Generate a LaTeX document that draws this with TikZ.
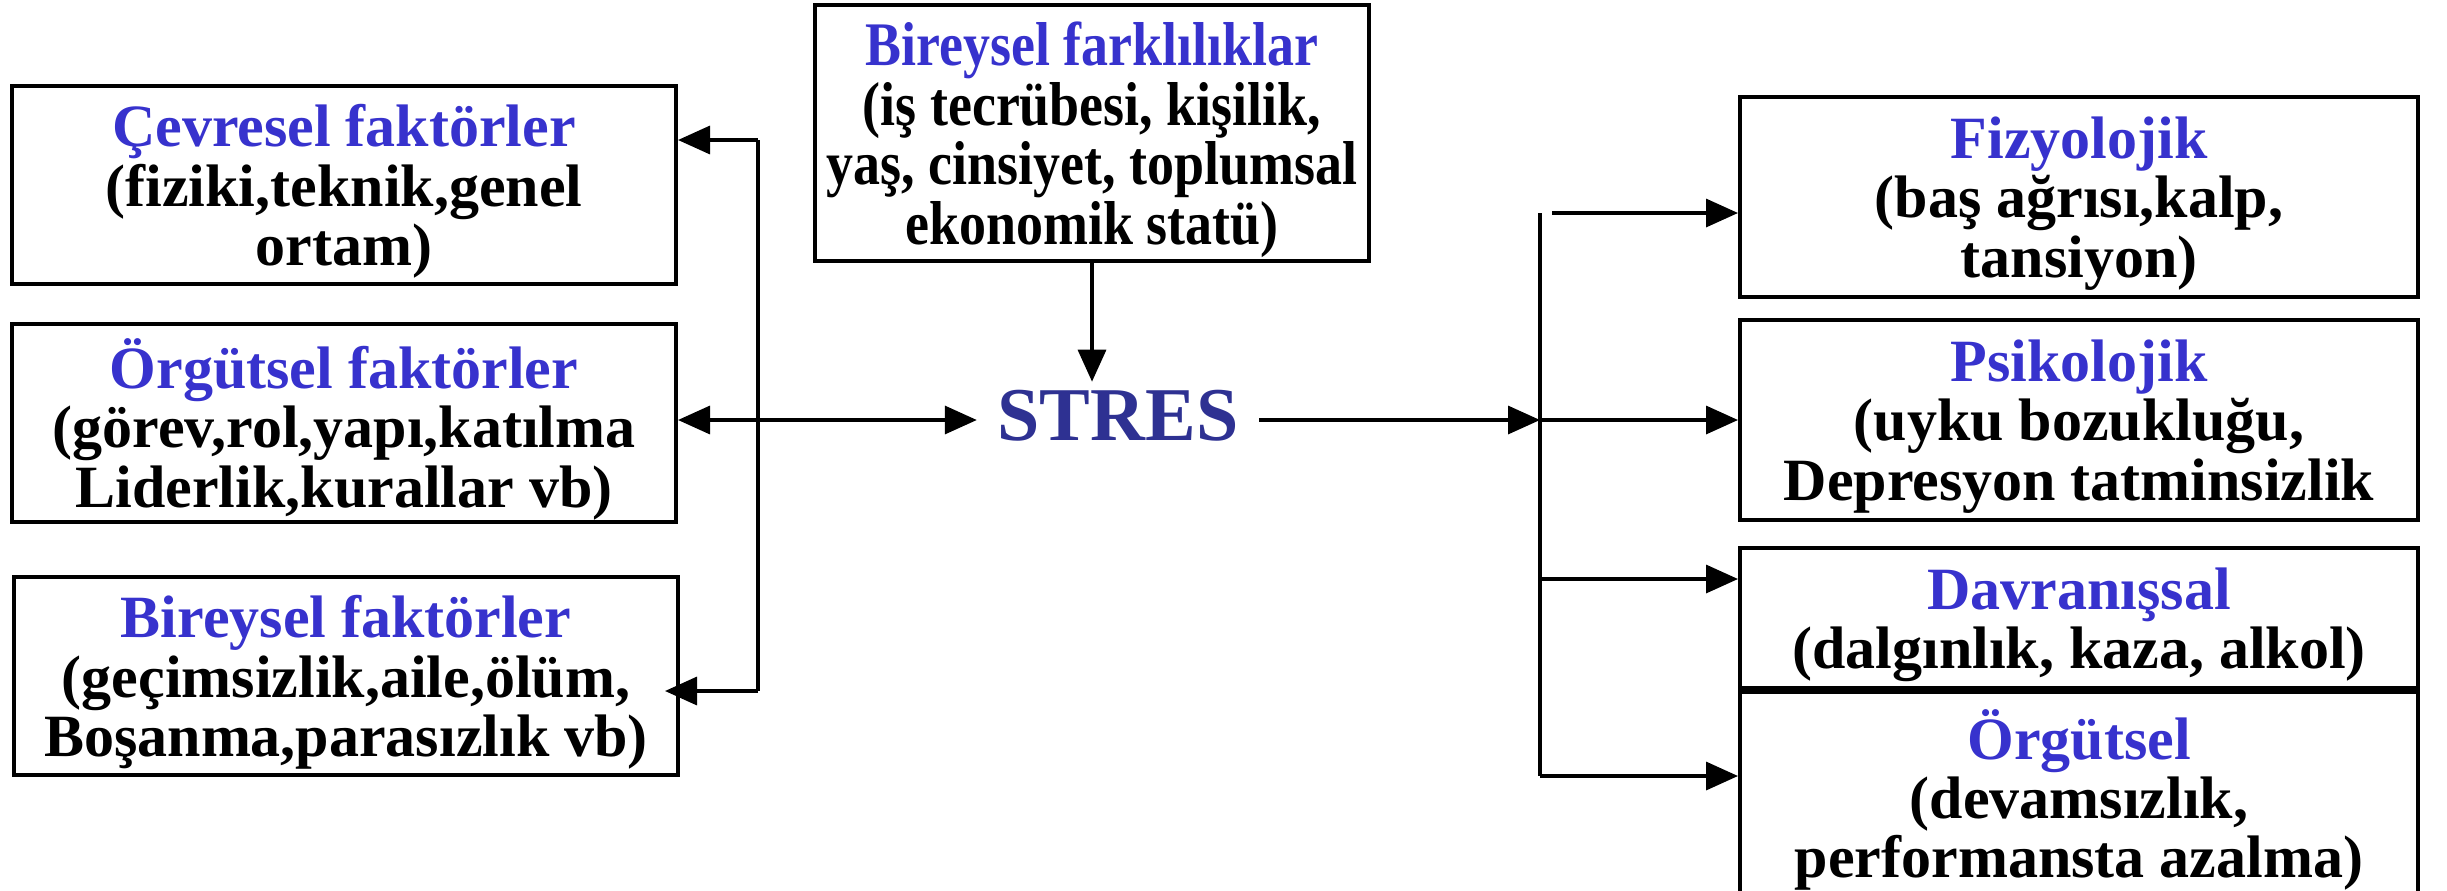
\documentclass[tikz,border=0pt]{standalone}
\usepackage{fontspec}
\setmainfont{Liberation Serif}
\newfontfamily\condserif{Liberation Serif}[FakeStretch=0.87]
\usetikzlibrary{arrows.meta,calc}
\definecolor{hblue}{RGB}{55,50,205}
\definecolor{sblue}{RGB}{46,49,146}
\begin{document}
\begin{tikzpicture}[x=0.25pt,y=-0.25pt,
  box/.style={draw,line width=1pt,align=center,inner sep=0pt,text depth=0pt,
    font=\bfseries\fontsize{15pt}{14.8pt}\selectfont},
  lbox/.style={box,minimum width=166pt,minimum height=49.5pt},
  rbox/.style={box,minimum width=169.5pt},
  conn/.style={line width=0.85pt},
  arr/.style={conn,-{Triangle[length=8pt,width=7pt]}},
  biarr/.style={conn,{Triangle[length=8pt,width=7pt]}-{Triangle[length=8pt,width=7pt]}},
]
\useasboundingbox (0,0) rectangle (2447,890);

% left boxes
\node[lbox] (cev) at (344,185) {\textcolor{hblue}{Çevresel faktörler}\\(fiziki,teknik,genel\\ortam)};
\node[lbox] (org) at (344,423) {\textcolor{hblue}{Örgütsel faktörler}\\(görev,rol,yapı,katılma\\Liderlik,kurallar vb)};
\node[lbox] (bir) at (346,676) {\textcolor{hblue}{Bireysel faktörler}\\(geçimsizlik,aile,ölüm,\\Boşanma,parasızlık vb)};

% middle
\node[box,minimum width=138.5pt,minimum height=64pt,
  font=\condserif\bfseries\fontsize{15.5pt}{14.9pt}\selectfont] (far) at (1092,133)
  {\textcolor{hblue}{Bireysel farklılıklar}\\(iş tecrübesi, kişilik,\\yaş, cinsiyet, toplumsal\\ekonomik statü)};
\node[inner xsep=5pt,inner ysep=2pt,text=sblue,font=\bfseries\fontsize{19pt}{22pt}\selectfont] (stres) at (1118,416) {STRES};

% right boxes
\node[rbox,minimum height=50pt] (fiz) at (2079,197) {\textcolor{hblue}{Fizyolojik}\\(baş ağrısı,kalp,\\tansiyon)};
\node[rbox,minimum height=50pt] (psi) at (2079,420) {\textcolor{hblue}{Psikolojik}\\(uyku bozukluğu,\\Depresyon tatminsizlik};
\node[rbox,minimum height=35pt] (dav) at (2079,618) {\textcolor{hblue}{Davranışsal}\\(dalgınlık, kaza, alkol)};
\node[rbox,minimum height=50.75pt] (orgr) at (2079,793.5) {\textcolor{hblue}{Örgütsel}\\(devamsızlık,\\performansta azalma)};

% left bus
\coordinate (l1) at (758,140);
\coordinate (l2) at (758,420);
\coordinate (l3) at (758,691);
\draw[conn] (l1) -- (l3);
\draw[arr] (l1) -- (cev.east |- l1);
\draw[biarr] (org.east |- l2) -- (stres.west |- l2);
\draw[arr] (l3) -- ($(bir.east |- l3)+(-15,0)$);

% down arrow
\draw[arr] (far.south) -- (far.south |- stres.north);

% right bus
\coordinate (r0) at (1552,213);
\coordinate (r1) at (1540,213);
\coordinate (r2) at (1540,420);
\coordinate (r3) at (1540,579);
\coordinate (r4) at (1540,776);
\draw[conn] (r1) -- (r4);
\draw[arr] (stres.east |- r2) -- (r2);
\draw[arr] (r0) -- (fiz.west |- r0);
\draw[arr] (r2) -- (psi.west |- r2);
\draw[arr] (r3) -- (dav.west |- r3);
\draw[arr] (r4) -- (orgr.west |- r4);
\end{tikzpicture}
\end{document}
